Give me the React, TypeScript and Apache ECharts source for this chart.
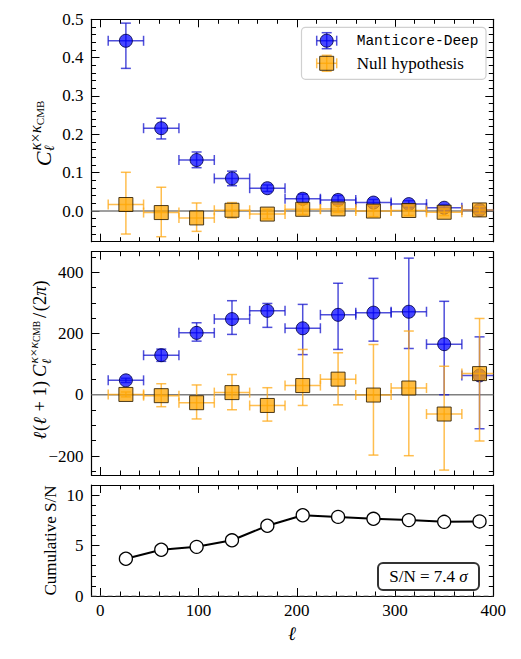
import React, { useEffect, useRef } from "react";
import * as echarts from "echarts";

// ---------- data ----------
const ELL = [26, 62, 98, 134, 170, 206, 242, 278, 314, 350, 386];
const BIN_HALF_WIDTH = 18;

const CL_DEEP = [0.444, 0.216, 0.133, 0.085, 0.0595, 0.032, 0.029, 0.022, 0.018, 0.0085, 0.0027];
const CL_DEEP_LO = [0.372, 0.188, 0.113, 0.066, 0.051, 0.02, 0.0175, 0.014, 0.009, 0.001, -0.0036];
const CL_DEEP_HI = [0.49, 0.242, 0.154, 0.104, 0.068, 0.044, 0.0405, 0.03, 0.027, 0.016, 0.009];

const CL_NULL = [0.017, -0.004, -0.018, 0.002, -0.008, 0.0045, 0.0055, -0.0001, 0.0014, -0.0032, 0.0029];
const CL_NULL_LO = [-0.06, -0.067, -0.053, -0.018, -0.02, -0.009, -0.0035, -0.0148, -0.0115, -0.0119, -0.0055];
const CL_NULL_HI = [0.101, 0.062, 0.021, 0.022, 0.004, 0.018, 0.0145, 0.0146, 0.0143, 0.0055, 0.0113];

const DL_DEEP = [47, 129, 202, 247, 274, 217, 261, 268, 271, 165, 63];
const DL_DEEP_LO = [40, 109, 175, 197, 220, 131, 148, 175, 151, 0, -111];
const DL_DEEP_HI = [54, 149, 235, 307, 298, 295, 364, 380, 446, 305, 189];

const DL_NULL = [1, -3, -26, 7, -35, 30, 51, -1, 22, -63, 69];
const DL_NULL_LO = [-7, -39, -79, -49, -86, -35, -33, -197, -199, -246, -151];
const DL_NULL_HI = [9, 36, 32, 66, 23, 148, 137, 164, 208, 93, 249];

const CUM_SN = [3.69, 4.58, 4.87, 5.52, 6.96, 8.0, 7.84, 7.65, 7.52, 7.35, 7.39];
const TOTAL_SN = "7.4";

// ---------- axis ranges / ticks ----------
const X_MIN = -9;
const X_MAX = 400;
const X_MAJOR = [0, 100, 200, 300, 400];
const X_MINOR = [0, 20, 40, 60, 80, 100, 120, 140, 160, 180, 200, 220, 240, 260, 280, 300, 320, 340, 360, 380, 400];

const Y1_RANGE = [-0.08, 0.5];
const Y1_MAJOR = [0, 0.1, 0.2, 0.3, 0.4, 0.5];
const Y1_MINOR = [-0.08, -0.06, -0.04, -0.02, 0, 0.02, 0.04, 0.06, 0.08, 0.1, 0.12, 0.14, 0.16, 0.18, 0.2, 0.22, 0.24, 0.26, 0.28, 0.3, 0.32, 0.34, 0.36, 0.38, 0.4, 0.42, 0.44, 0.46, 0.48, 0.5];

const Y2_RANGE = [-262, 467];
const Y2_MAJOR = [-200, 0, 200, 400];
const Y2_MINOR = [-250, -200, -150, -100, -50, 0, 50, 100, 150, 200, 250, 300, 350, 400, 450];

const Y3_RANGE = [0, 11];
const Y3_MAJOR = [0, 5, 10];
const Y3_MINOR = [0, 1, 2, 3, 4, 5, 6, 7, 8, 9, 10, 11];

const SERIES_NAMES = ["Manticore-Deep", "Null hypothesis"];

// ---------- styles ----------
const SERIF = "Liberation Serif";
const MONO = "Liberation Mono";
const BLUE_FILL = "rgba(0,0,255,0.72)";
const BLUE_EDGE = "rgba(0,0,70,0.85)";
const BLUE_ERR = "rgba(20,20,205,0.75)";
const ORANGE_FILL = "rgba(255,165,0,0.75)";
const ORANGE_EDGE = "rgba(45,28,0,0.85)";
const ORANGE_ERR = "rgba(255,168,20,0.75)";

const GRIDS = [
  { left: 91.5, top: 19.3, width: 401.8, height: 222.4 },
  { left: 91.5, top: 251.7, width: 401.8, height: 223.3 },
  { left: 91.5, top: 485, width: 401.8, height: 111 },
];

const fmtTick = (v: number, digits: number) => {
  const s = v.toFixed(digits);
  return s.replace("-", "\u2212");
};

function makeAxes(
  kind: "x" | "y",
  gridIndex: number,
  range: number[],
  major: number[],
  minor: number[],
  showLabels: boolean,
  digits: number
) {
  const positions = kind === "x" ? ["bottom", "top"] : ["left", "right"];
  const axes: any[] = [];
  positions.forEach((pos, pi) => {
    [true, false].forEach((isMajor) => {
      axes.push({
        type: "value",
        gridIndex,
        position: pos,
        min: range[0],
        max: range[1],
        axisLine: {
          show: isMajor,
          onZero: false,
          lineStyle: { color: "#000", width: 1.2 },
        },
        axisTick: {
          show: true,
          inside: true,
          length: isMajor ? 8 : 4.5,
          customValues: isMajor ? major : minor,
          lineStyle: { color: "#000", width: 1 },
        },
        axisLabel: {
          show: isMajor && pi === 0 && showLabels,
          customValues: major,
          formatter: (v: number) => fmtTick(v, digits),
          fontFamily: SERIF,
          fontSize: 17,
          color: "#000",
          margin: kind === "x" ? 6 : 8,
        },
        splitLine: { show: false },
        minorTick: { show: false },
      });
    });
  });
  return axes;
}

function errRender(color: string, cap: number) {
  return (params: any, api: any) => {
    const x = api.value(0);
    const y = api.value(1);
    const lo = api.value(2);
    const hi = api.value(3);
    const cs = params.coordSys;
    const pL = api.coord([x - BIN_HALF_WIDTH, y]);
    const pR = api.coord([x + BIN_HALF_WIDTH, y]);
    const pB = api.coord([x, lo]);
    const pT = api.coord([x, hi]);
    const xMaxPx = cs.x + cs.width;
    const xMinPx = cs.x;
    const style = { stroke: color, lineWidth: 1.5, fill: "none" };
    const ln = (x1: number, y1: number, x2: number, y2: number) => ({
      type: "line",
      shape: { x1, y1, x2, y2 },
      style,
    });
    const leftX = Math.max(pL[0], xMinPx);
    const rightX = Math.min(pR[0], xMaxPx);
    const children: any[] = [
      ln(leftX, pL[1], rightX, pR[1]),
      ln(pB[0], pB[1], pT[0], pT[1]),
      ln(pB[0] - cap, pB[1], pB[0] + cap, pB[1]),
      ln(pT[0] - cap, pT[1], pT[0] + cap, pT[1]),
    ];
    if (pL[0] >= xMinPx) children.push(ln(pL[0], pL[1] - cap, pL[0], pL[1] + cap));
    if (pR[0] <= xMaxPx) children.push(ln(pR[0], pR[1] - cap, pR[0], pR[1] + cap));
    return { type: "group", children };
  };
}

type Piece = { t: string; s: number; it?: boolean; dy?: number; gap?: number; mark?: boolean; fromMark?: boolean };

function buildRotatedLabel(pieces: Piece[], baseX: number, centerY: number) {
  const ctx = document.createElement("canvas").getContext("2d") as CanvasRenderingContext2D;
  let u = 0;
  let mark = 0;
  let maxU = 0;
  const children: any[] = [];
  pieces.forEach((p) => {
    if (p.mark) mark = u;
    if (p.fromMark) u = mark;
    u += p.gap || 0;
    ctx.font = `${p.it ? "italic " : ""}${p.s}px "${SERIF}"`;
    const w = ctx.measureText(p.t).width;
    children.push({
      type: "text",
      x: u,
      y: (p.dy || 0) - 0.3 * p.s,
      style: {
        text: p.t,
        fontSize: p.s,
        fontFamily: SERIF,
        fontStyle: p.it ? "italic" : "normal",
        fill: "#000",
        align: "left",
        verticalAlign: "middle",
      },
    });
    u += w;
    maxU = Math.max(maxU, u);
  });
  return {
    type: "group",
    x: baseX,
    y: centerY + maxU / 2,
    rotation: Math.PI / 2,
    children,
  };
}

const TOP_LABEL: Piece[] = [
  { t: "C", s: 22, it: true },
  { t: "\u2113", s: 14, it: true, dy: 4, mark: true, gap: 0.5 },
  { t: "\u03ba", s: 16, it: true, dy: -9.5, fromMark: true, gap: 1 },
  { t: "\u00d7", s: 16, dy: -9.5, gap: 0.5 },
  { t: "\u03ba", s: 16, it: true, dy: -9.5, gap: 0.5 },
  { t: "CMB", s: 11, dy: -7 },
];

const MID_LABEL: Piece[] = [
  { t: "\u2113", s: 18.5, it: true },
  { t: "(", s: 18.5, gap: 1 },
  { t: "\u2113", s: 18.5, it: true },
  { t: " + 1)", s: 18.5, gap: 1 },
  { t: "C", s: 18.5, it: true, gap: 4 },
  { t: "\u2113", s: 13, it: true, dy: 4, mark: true, gap: 0.5 },
  { t: "\u03ba", s: 13.5, it: true, dy: -8.5, fromMark: true, gap: 1 },
  { t: "\u00d7", s: 13.5, dy: -8.5, gap: 0.5 },
  { t: "\u03ba", s: 13.5, it: true, dy: -8.5, gap: 0.5 },
  { t: "CMB", s: 9.5, dy: -6 },
  { t: "/", s: 18.5, gap: 3 },
  { t: "(2", s: 18.5, gap: 1.5 },
  { t: "\u03c0", s: 18.5, it: true },
  { t: ")", s: 18.5 },
];

const BOTTOM_LABEL: Piece[] = [{ t: "Cumulative S/N", s: 17 }];

export default function App() {
  const ref = useRef<HTMLDivElement>(null);

  useEffect(() => {
    if (!ref.current) return;
    const chart = echarts.init(ref.current, null, { renderer: "svg" });

    const xAxes = [
      ...makeAxes("x", 0, [X_MIN, X_MAX], X_MAJOR, X_MINOR, false, 0),
      ...makeAxes("x", 1, [X_MIN, X_MAX], X_MAJOR, X_MINOR, false, 0),
      ...makeAxes("x", 2, [X_MIN, X_MAX], X_MAJOR, X_MINOR, true, 0),
    ];
    const yAxes = [
      ...makeAxes("y", 0, Y1_RANGE, Y1_MAJOR, Y1_MINOR, true, 1),
      ...makeAxes("y", 1, Y2_RANGE, Y2_MAJOR, Y2_MINOR, true, 0),
      ...makeAxes("y", 2, Y3_RANGE, Y3_MAJOR, Y3_MINOR, true, 0),
    ];

    const zeroLine = (gi: number, dashed: boolean) => ({
      type: "line",
      xAxisIndex: gi * 4,
      yAxisIndex: gi * 4,
      data: [
        [X_MIN, 0],
        [X_MAX, 0],
      ],
      symbol: "none",
      silent: true,
      z: 1,
      lineStyle: { color: dashed ? "#8a8a8a" : "#7f7f7f", width: dashed ? 1.2 : 1.6, type: dashed ? [5, 3] : "solid" },
    });

    const errSeries = (gi: number, vals: number[], lo: number[], hi: number[], color: string, z: number) => ({
      type: "custom",
      xAxisIndex: gi * 4,
      yAxisIndex: gi * 4,
      data: ELL.map((x, i) => [x, vals[i], lo[i], hi[i]]),
      encode: { x: 0, y: 1 },
      renderItem: errRender(color, 5),
      silent: true,
      z,
    });

    const markerSeries = (gi: number, vals: number[], name: string, isNull: boolean, z: number) => ({
      type: "scatter",
      name,
      xAxisIndex: gi * 4,
      yAxisIndex: gi * 4,
      data: ELL.map((x, i) => [x, vals[i]]),
      symbol: isNull ? "rect" : "circle",
      symbolSize: isNull ? 14 : 13,
      itemStyle: {
        color: isNull ? ORANGE_FILL : BLUE_FILL,
        borderColor: isNull ? ORANGE_EDGE : BLUE_EDGE,
        borderWidth: 1,
        opacity: 1,
      },
      silent: true,
      z,
    });

    const series: any[] = [
      zeroLine(0, false),
      errSeries(0, CL_DEEP, CL_DEEP_LO, CL_DEEP_HI, BLUE_ERR, 2),
      markerSeries(0, CL_DEEP, SERIES_NAMES[0], false, 3),
      errSeries(0, CL_NULL, CL_NULL_LO, CL_NULL_HI, ORANGE_ERR, 4),
      markerSeries(0, CL_NULL, SERIES_NAMES[1], true, 5),
      zeroLine(1, false),
      errSeries(1, DL_DEEP, DL_DEEP_LO, DL_DEEP_HI, BLUE_ERR, 2),
      markerSeries(1, DL_DEEP, SERIES_NAMES[0], false, 3),
      errSeries(1, DL_NULL, DL_NULL_LO, DL_NULL_HI, ORANGE_ERR, 4),
      markerSeries(1, DL_NULL, SERIES_NAMES[1], true, 5),
      zeroLine(2, true),
      {
        type: "line",
        xAxisIndex: 8,
        yAxisIndex: 8,
        data: ELL.map((x, i) => [x, CUM_SN[i]]),
        symbol: "circle",
        symbolSize: 13,
        lineStyle: { color: "#000", width: 2 },
        itemStyle: { color: "#fff", borderColor: "#000", borderWidth: 1.3 },
        silent: true,
        z: 3,
      },
    ];

    const legendLine = (x1: number, y1: number, x2: number, y2: number, color: string) => ({
      type: "line",
      z: 110,
      shape: { x1, y1, x2, y2 },
      style: { stroke: color, lineWidth: 1.5 },
    });
    const legendRow = (cy: number, isNull: boolean) => {
      const cx = 326.7;
      const c = isNull ? ORANGE_ERR : BLUE_ERR;
      const marker = isNull
        ? {
            type: "rect",
            z: 111,
            shape: { x: cx - 7, y: cy - 7, width: 14, height: 14 },
            style: { fill: ORANGE_FILL, stroke: ORANGE_EDGE, lineWidth: 1 },
          }
        : {
            type: "circle",
            z: 111,
            shape: { cx, cy, r: 6.5 },
            style: { fill: BLUE_FILL, stroke: BLUE_EDGE, lineWidth: 1 },
          };
      return [
        legendLine(cx - 10, cy, cx + 10, cy, c),
        legendLine(cx - 10, cy - 5, cx - 10, cy + 5, c),
        legendLine(cx + 10, cy - 5, cx + 10, cy + 5, c),
        legendLine(cx, cy - 8, cx, cy + 8, c),
        legendLine(cx - 5, cy - 8, cx + 5, cy - 8, c),
        legendLine(cx - 5, cy + 8, cx + 5, cy + 8, c),
        marker,
      ];
    };

    const graphic: any[] = [
      {
        type: "rect",
        z: 100,
        shape: { x: 301.5, y: 27.3, width: 184.5, height: 52, r: 4 },
        style: { fill: "rgba(255,255,255,0.85)", stroke: "#d0d0d0", lineWidth: 1.2 },
      },
      ...legendRow(40.7, false),
      ...legendRow(63.3, true),
      {
        type: "text",
        z: 111,
        x: 356.7,
        y: 40.7,
        style: { text: SERIES_NAMES[0], fontFamily: MONO, fontSize: 14.5, fill: "#000", verticalAlign: "middle" },
      },
      {
        type: "text",
        z: 111,
        x: 356.7,
        y: 63.3,
        style: { text: SERIES_NAMES[1], fontFamily: SERIF, fontSize: 17, fill: "#000", verticalAlign: "middle" },
      },
      {
        type: "rect",
        z: 100,
        shape: { x: 378, y: 563, width: 101, height: 27, r: 5 },
        style: { fill: "#fff", stroke: "#333", lineWidth: 2 },
      },
      {
        type: "text",
        x: 428.5,
        y: 576.8,
        z: 101,
        style: {
          text: `{a|S/N = ${TOTAL_SN} }{b|\u03c3}`,
          align: "center",
          verticalAlign: "middle",
          rich: {
            a: { fontFamily: SERIF, fontSize: 17, fill: "#000" },
            b: { fontFamily: SERIF, fontSize: 17, fontStyle: "italic", fill: "#000" },
          },
        },
      },
      buildRotatedLabel(TOP_LABEL, 50, 133.5),
      buildRotatedLabel(MID_LABEL, 46, 360),
      buildRotatedLabel(BOTTOM_LABEL, 56, 540.5),
      {
        type: "text",
        x: 292,
        y: 633,
        style: {
          text: "\u2113",
          fontFamily: SERIF,
          fontStyle: "italic",
          fontSize: 19,
          fill: "#000",
          align: "center",
          verticalAlign: "middle",
        },
      },
    ];

    chart.setOption({
      animation: false,
      backgroundColor: "#fff",
      grid: GRIDS,
      xAxis: xAxes,
      yAxis: yAxes,
      series,
      graphic,
    });

    return () => chart.dispose();
  }, []);

  return (
    <div
      ref={ref}
      style={{ position: "fixed", left: 0, top: 0, width: 521, height: 659, background: "#fff" }}
    />
  );
}
